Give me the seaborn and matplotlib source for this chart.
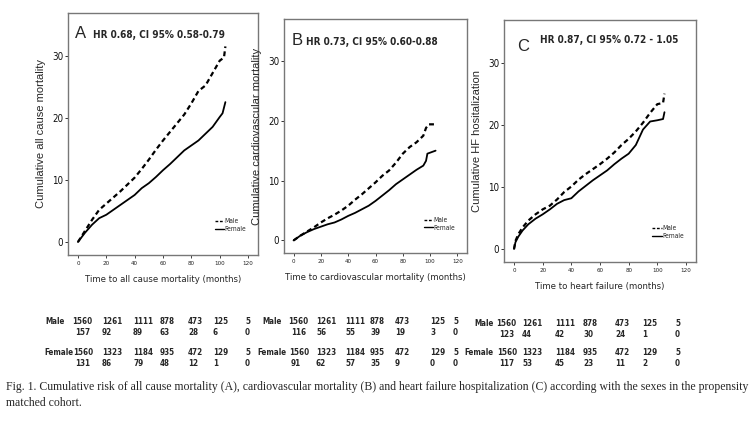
import matplotlib
matplotlib.use("Agg")
import matplotlib.pyplot as plt
import seaborn as sns
import pandas as pd
from matplotlib.lines import Line2D

sns.set_theme(style="white")
plt.rcParams['font.family'] = ['DejaVu Sans']
plt.rcParams['font.stretch'] = 'condensed'

# ---- data ----
a_male_t = [0, 5, 10, 15, 20, 25, 30, 35, 40, 45, 50, 55, 60, 65, 70, 75, 80, 85, 90, 95, 100, 103, 104]
a_male_y = [0, 1.8, 3.6, 5.2, 6.2, 7.2, 8.2, 9.3, 10.4, 11.8, 13.3, 14.9, 16.4, 17.8, 19.2, 20.6, 22.4, 24.4, 25.3, 27.3, 29.3, 29.8, 31.6]
a_female_t = [0, 5, 10, 15, 20, 25, 30, 35, 40, 45, 50, 55, 60, 65, 70, 75, 80, 85, 90, 95, 100, 102, 104]
a_female_y = [0, 1.5, 2.8, 3.85, 4.4, 5.2, 6.0, 6.8, 7.6, 8.7, 9.5, 10.5, 11.6, 12.6, 13.7, 14.8, 15.6, 16.4, 17.5, 18.6, 20.2, 20.8, 22.6]

b_male_t = [0, 5, 10, 15, 20, 25, 30, 35, 40, 45, 50, 55, 60, 65, 70, 75, 80, 85, 90, 95, 97, 99, 104]
b_male_y = [0, 0.8, 1.5, 2.2, 3.0, 3.7, 4.3, 5.0, 5.8, 6.8, 7.7, 8.7, 9.7, 10.8, 11.7, 13.0, 14.5, 15.6, 16.4, 17.5, 18.8, 19.4, 19.4]
b_female_t = [0, 5, 10, 15, 20, 25, 30, 35, 40, 45, 50, 55, 60, 65, 70, 75, 80, 85, 90, 95, 97, 98, 104]
b_female_y = [0, 0.8, 1.4, 1.9, 2.3, 2.7, 3.0, 3.5, 4.1, 4.6, 5.2, 5.8, 6.6, 7.5, 8.4, 9.4, 10.2, 11.0, 11.8, 12.5, 13.3, 14.5, 15.0]

c_male_t = [0, 1, 3, 6, 10, 15, 20, 25, 30, 35, 40, 45, 50, 55, 60, 65, 70, 75, 80, 85, 90, 95, 100, 104, 105]
c_male_y = [0, 1.3, 2.4, 3.5, 4.6, 5.6, 6.4, 7.0, 8.0, 9.2, 10.1, 11.2, 12.1, 12.9, 13.7, 14.6, 15.6, 16.8, 17.8, 19.0, 20.4, 22.0, 23.4, 23.6, 25.1]
c_female_t = [0, 1, 3, 6, 10, 15, 20, 25, 30, 35, 40, 45, 50, 55, 60, 65, 70, 75, 80, 85, 90, 95, 100, 104, 105]
c_female_y = [0, 1.1, 2.0, 3.0, 4.0, 4.9, 5.6, 6.4, 7.3, 7.9, 8.2, 9.3, 10.2, 11.1, 11.9, 12.7, 13.7, 14.6, 15.4, 16.8, 19.3, 20.6, 20.8, 21.0, 22.1]

panel_letters = ["A", "B", "C"]
hr_texts = ["HR 0.68, CI 95% 0.58-0.79", "HR 0.73, CI 95% 0.60-0.88", "HR 0.87, CI 95% 0.72 - 1.05"]
y_labels = ["Cumulative all cause mortality", "Cumulative cardiovascular mortality", "Cumulative HF hositalization"]
x_labels = ["Time to all cause mortality (months)", "Time to cardiovascular mortality (months)", "Time to heart failure (months)"]
x_ticks = [0, 20, 40, 60, 80, 100, 120]
y_ticks = [0, 10, 20, 30]

risk_male_a = ["1560", "1261", "1111", "878", "473", "125", "5"]
risk_male_a_ev = ["157", "92", "89", "63", "28", "6", "0"]
risk_female_a = ["1560", "1323", "1184", "935", "472", "129", "5"]
risk_female_a_ev = ["131", "86", "79", "48", "12", "1", "0"]
risk_male_b = ["1560", "1261", "1111", "878", "473", "125", "5"]
risk_male_b_ev = ["116", "56", "55", "39", "19", "3", "0"]
risk_female_b = ["1560", "1323", "1184", "935", "472", "129", "5"]
risk_female_b_ev = ["91", "62", "57", "35", "9", "0", "0"]
risk_male_c = ["1560", "1261", "1111", "878", "473", "125", "5"]
risk_male_c_ev = ["123", "44", "42", "30", "24", "1", "0"]
risk_female_c = ["1560", "1323", "1184", "935", "472", "129", "5"]
risk_female_c_ev = ["117", "53", "45", "23", "11", "2", "0"]

caption = ("Fig. 1. Cumulative risk of all cause mortality (A), cardiovascular mortality (B) and heart failure "
           "hospitalization (C) according with the sexes in the propensity\nmatched cohort.")

# ---- figure ----
W, H = 750, 423
fig = plt.figure(figsize=(7.5, 4.23), dpi=100)

def box(l, t, r, b):
    return [l / W, 1 - b / H, (r - l) / W, (b - t) / H]

axes_px = [(68, 13, 258, 255), (284, 19, 467, 253), (504, 20, 696, 262)]
series = [
    (a_male_t, a_male_y, a_female_t, a_female_y),
    (b_male_t, b_male_y, b_female_t, b_female_y),
    (c_male_t, c_male_y, c_female_t, c_female_y),
]
letter_pos = [(0.037, 0.917), (0.044, 0.91), (0.068, 0.89)]
hr_pos = [(0.13, 0.909), (0.12, 0.90), (0.19, 0.917)]

for i, (px, s) in enumerate(zip(axes_px, series)):
    ax = fig.add_axes(box(*px))
    mt, my, ft, fy = s
    dm = pd.DataFrame({"t": mt, "y": my})
    dfm = pd.DataFrame({"t": ft, "y": fy})
    sns.lineplot(data=dm, x="t", y="y", ax=ax, color="black", lw=1.6,
                 linestyle=(0, (2.2, 1.5)))
    sns.lineplot(data=dfm, x="t", y="y", ax=ax, color="black", lw=1.3)
    ax.set_xlim(-7, 127)
    ax.set_ylim(-2.1, 37)
    ax.set_xticks(x_ticks)
    ax.set_yticks(y_ticks)
    ax.tick_params(axis="x", labelsize=4.5, length=2, width=0.6, pad=2, colors="#222222", bottom=True)
    ax.tick_params(axis="y", labelsize=7, length=2, width=0.6, pad=1.5, colors="#111111", left=True)
    for sp in ax.spines.values():
        sp.set_color("#777777")
        sp.set_linewidth(1.0)
    ax.set_ylabel(y_labels[i], fontsize=8, family=["Liberation Sans", "DejaVu Sans"],
                  fontstretch="normal", labelpad=4)
    ax.set_xlabel(x_labels[i], fontsize=6.8, labelpad=7)
    ax.text(*letter_pos[i], panel_letters[i], transform=ax.transAxes, fontsize=12,
            va="center", ha="left", family=["Liberation Sans", "DejaVu Sans"], fontstretch="normal")
    ax.text(*hr_pos[i], hr_texts[i], transform=ax.transAxes,
            fontsize=7.2, fontweight="bold", va="center", ha="left")
    handles = [Line2D([], [], color="black", lw=1.0, linestyle=(0, (2, 1.2))),
               Line2D([], [], color="black", lw=1.0, drawstyle="steps-post")]
    ax.legend(handles, ["Male", "Female"], loc="lower right", fontsize=4.8, frameon=False,
              handlelength=1.4, handletextpad=0.1, labelspacing=0.25,
              bbox_to_anchor=(0.97, 0.07))

# ---- numbers at risk ----
cols = [
    [72, 102, 133, 160, 188, 213, 245],
    [288, 316, 345, 370, 395, 430, 453],
    [496, 522, 555, 583, 615, 642, 675],
]
# (x, ha) for the Male and Female row labels
male_lab = [(45, "left"), (262, "left"), (494, "right")]
female_lab = [(44, "left"), (287, "right"), (494, "right")]
row_y = [[321, 332, 352, 363], [321, 332, 352, 363], [323, 334, 352, 363]]
tables = [
    (risk_male_a, risk_male_a_ev, risk_female_a, risk_female_a_ev),
    (risk_male_b, risk_male_b_ev, risk_female_b, risk_female_b_ev),
    (risk_male_c, risk_male_c_ev, risk_female_c, risk_female_c_ev),
]
tfs = 5.8
for p in range(3):
    rows = tables[p]
    ys = row_y[p]
    fig.text(male_lab[p][0] / W, 1 - ys[0] / H, "Male", fontsize=tfs, fontweight="bold",
             va="center", ha=male_lab[p][1])
    fig.text(female_lab[p][0] / W, 1 - ys[2] / H, "Female", fontsize=tfs, fontweight="bold",
             va="center", ha=female_lab[p][1])
    for r in range(4):
        for k, v in enumerate(rows[r]):
            x = cols[p][k]
            if r in (1, 3) and k == 0:
                x += 3
            if r == 2 and k == 0:
                x = cols[p][0] + 1
            fig.text(x / W, 1 - ys[r] / H, v, fontsize=tfs, fontweight="bold", va="center", ha="left")

fig.text(6 / W, 1 - 381 / H, caption, fontsize=8.5, family=["Liberation Serif", "DejaVu Serif"],
         fontstretch="normal", va="top", ha="left", linespacing=1.45)

fig.savefig("out.png", dpi=100, facecolor="white")
